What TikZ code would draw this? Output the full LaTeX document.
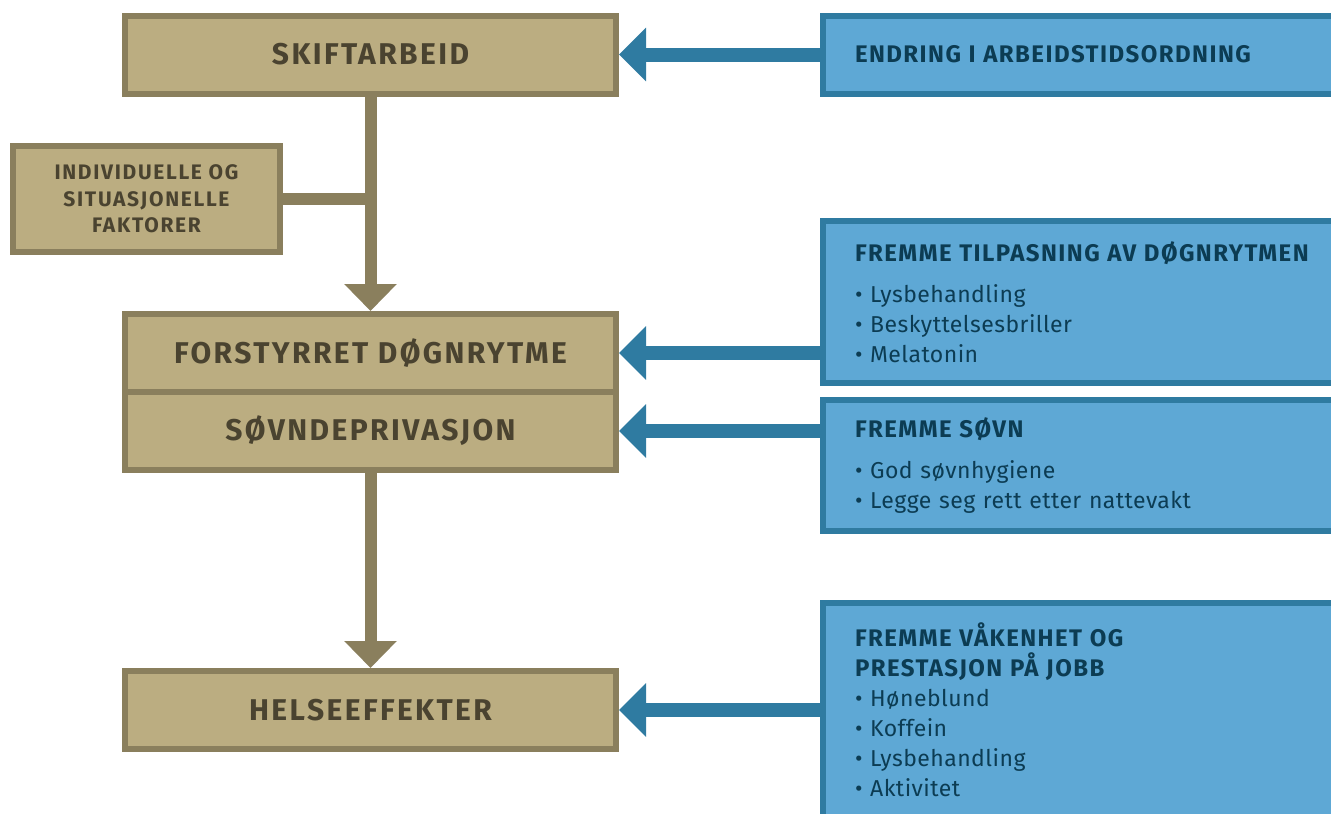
\documentclass[tikz,border=0pt]{standalone}
\usepackage{fontspec}
\setmainfont{Fira Sans}
\newfontfamily\spacedfont[LetterSpace=8]{Fira Sans}
\newfontfamily\titlefont[LetterSpace=6]{Fira Sans}
\newfontfamily\itemfont[LetterSpace=2]{Fira Sans}
\usetikzlibrary{arrows.meta}
\definecolor{tanline}{HTML}{8A7F5D}
\definecolor{tanfill}{HTML}{BBAD81}
\definecolor{tantext}{HTML}{4A4330}
\definecolor{blueline}{HTML}{2F7BA1}
\definecolor{bluefill}{HTML}{5EA8D5}
\definecolor{bluetext}{HTML}{0C3C53}
\newcommand{\boxtitle}[1]{{\titlefont\bfseries\fontsize{24}{30}\selectfont #1}}

\begin{document}
\begin{tikzpicture}[x=1pt, y=-1pt,
    tanbox/.style={draw=tanline, fill=tanfill, line width=6pt, inner sep=0pt,
      minimum width=491pt, minimum height=78pt, text=tantext,
      font=\spacedfont\fontsize{30}{36}\selectfont\bfseries},
    bluebox/.style={draw=blueline, fill=bluefill, line width=6pt, anchor=west,
      inner xsep=32pt, inner ysep=0pt, text width=480pt, align=left,
      text=bluetext, font=\itemfont\fontsize{23}{30}\selectfont},
    tanarrow/.style={draw=tanline, line width=12pt,
      -{Triangle[width=51pt,length=27pt]}},
    bluearrow/.style={draw=blueline, line width=14pt,
      -{Triangle[width=52pt,length=27pt]}}]
    \useasboundingbox (0,0) rectangle (1331,814);
    \clip (0,0) rectangle (1331,814);

    % main chain
    \node[tanbox] (skift) at (370.5,54.5) {SKIFTARBEID};
    \node[tanbox, minimum width=267pt, minimum height=106pt, align=center,
      font=\spacedfont\fontsize{21}{26.5}\selectfont\bfseries] (faktor) at (146.5,199)
      {INDIVIDUELLE OG\\SITUASJONELLE\\FAKTORER};
    \node[tanbox] (dogn) at (370.5,353) {FORSTYRRET DØGNRYTME};
    \node[tanbox] (sovn) at (370.5,431) {SØVNDEPRIVASJON};
    \node[tanbox] (helse) at (370.5,710) {HELSEEFFEKTER};

    \draw[tanarrow] (skift.south) -- (dogn.north);
    \draw[tanline, line width=12pt] (faktor.east) -- (faktor.east -| skift.south);
    \draw[tanarrow] (sovn.south) -- (helse.north);

    % measures
    \node[bluebox, minimum height=78pt] (endring) at (820,54.5)
      {\boxtitle{ENDRING I ARBEIDSTIDSORDNING}};
    \node[bluebox, minimum height=162pt] (tilpas) at (820,302)
      {\boxtitle{FREMME TILPASNING AV DØGNRYTMEN}\\[11pt]
       • Lysbehandling\\ • Beskyttelsesbriller\\ • Melatonin};
    \node[bluebox, minimum height=131pt] (fremsovn) at (820,465.5)
      {\boxtitle{FREMME SØVN}\\[11pt]
       • God søvnhygiene\\ • Legge seg rett etter nattevakt};
    \node[bluebox, minimum height=214pt] (vaken) at (820,710)
      {\boxtitle{FREMME VÅKENHET OG}\\\boxtitle{PRESTASJON PÅ JOBB}\\
       • Høneblund\\ • Koffein\\ • Lysbehandling\\ • Aktivitet};

    \draw[bluearrow] (endring.west) -- (skift.east);
    \draw[bluearrow] (tilpas.west |- dogn.east) -- (dogn.east);
    \draw[bluearrow] (fremsovn.west |- sovn.east) -- (sovn.east);
    \draw[bluearrow] (vaken.west) -- (helse.east);
\end{tikzpicture}
\end{document}
